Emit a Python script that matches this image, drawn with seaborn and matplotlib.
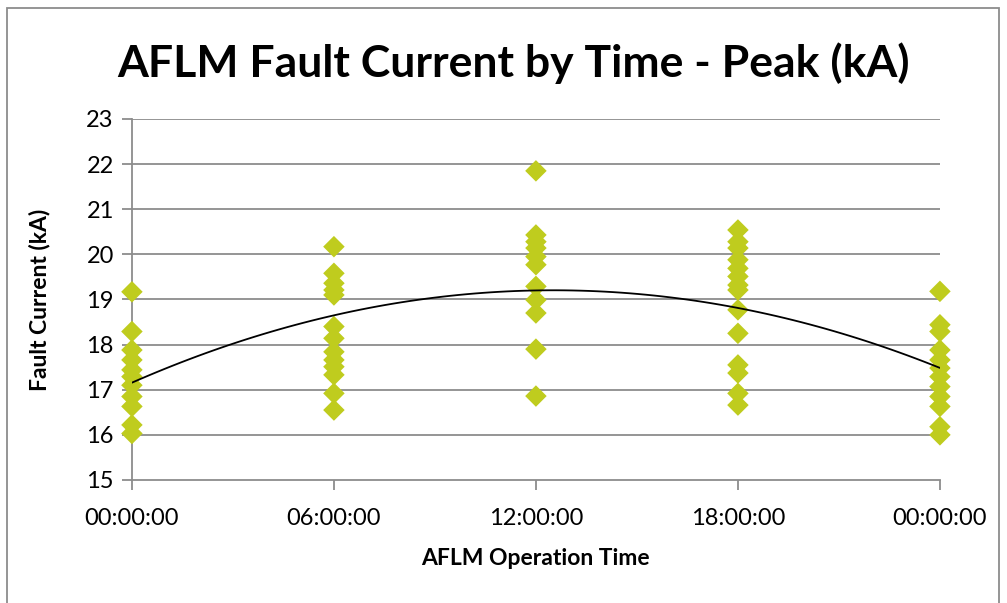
import numpy as np
import pandas as pd
import matplotlib
matplotlib.use("Agg")
import matplotlib.pyplot as plt
import seaborn as sns
from matplotlib.patches import Rectangle

# time of day as fraction of a day
t_0000 = [19.17, 18.29, 17.88, 17.66, 17.44, 17.29, 17.10, 16.85, 16.63, 16.22, 16.03]
t_0600 = [20.17, 19.58, 19.36, 19.21, 19.10, 18.40, 18.14, 17.84, 17.66, 17.51, 17.33, 16.92, 16.55]
t_1200 = [21.85, 20.43, 20.28, 20.14, 19.95, 19.77, 19.29, 18.99, 18.70, 17.90, 16.86]
t_1800 = [20.54, 20.28, 20.14, 19.88, 19.69, 19.51, 19.32, 19.21, 18.77, 18.25, 17.55, 17.37, 16.92, 16.66]
t_2400 = [19.18, 18.44, 18.29, 17.88, 17.66, 17.48, 17.29, 17.07, 16.85, 16.63, 16.18, 16.00]

times = [0.0, 0.25, 0.5, 0.75, 1.0]
tick_labels = ["00:00:00", "06:00:00", "12:00:00", "18:00:00", "00:00:00"]

rows = []
for t, vals in zip(times, [t_0000, t_0600, t_1200, t_1800, t_2400]):
    for v in vals:
        rows.append((t, v))
df = pd.DataFrame(rows, columns=["time", "current"])

sns.set_style("white")
plt.rcParams["font.family"] = ["Lato", "DejaVu Sans"]
plt.rcParams["text.color"] = "black"
plt.rcParams["axes.labelcolor"] = "black"

fig = plt.figure(figsize=(10.07, 6.03), dpi=100)
ax = fig.add_axes([0.131, 0.204, 0.8024, 0.5987])

grid_c = "#8c8c8c"
for y in range(16, 24):
    ax.axhline(y, color=grid_c, lw=1.3, zorder=0)

sns.scatterplot(data=df, x="time", y="current", marker="D", s=120,
                color="#BFCC1E", edgecolor="none", linewidth=0, ax=ax,
                zorder=3, clip_on=False)
sns.regplot(data=df, x="time", y="current", order=2, ci=None, scatter=False,
            line_kws={"color": "black", "lw": 1.3, "zorder": 4}, ax=ax)

ax.set_xlim(0, 1)
ax.set_ylim(15, 23)
ax.set_xticks(times)
ax.set_xticklabels(tick_labels)
ax.set_yticks(range(15, 24))
ax.tick_params(axis="both", labelsize=17, length=7, width=1.3, color=grid_c,
               labelcolor="black", direction="out", pad=6, bottom=True, left=True)
ax.tick_params(axis="x", pad=13)
for s in ["top", "right"]:
    ax.spines[s].set_visible(False)
for s in ["left", "bottom"]:
    ax.spines[s].set_color(grid_c)
    ax.spines[s].set_linewidth(1.3)

ax.set_xlabel("AFLM Operation Time", fontsize=16.5, fontweight="bold", labelpad=14)
ax.set_ylabel("Fault Current (kA)", fontsize=16.5, fontweight="bold", labelpad=26)
fig.suptitle("AFLM Fault Current by Time - Peak (kA)", fontsize=32, fontweight="bold",
             x=0.51, y=0.93)

fig.patches.append(Rectangle((0.007, -0.01), 0.985, 0.997, transform=fig.transFigure,
                             fill=False, edgecolor="#8c8c8c", lw=1.3))

fig.savefig("out.png", dpi=100)
